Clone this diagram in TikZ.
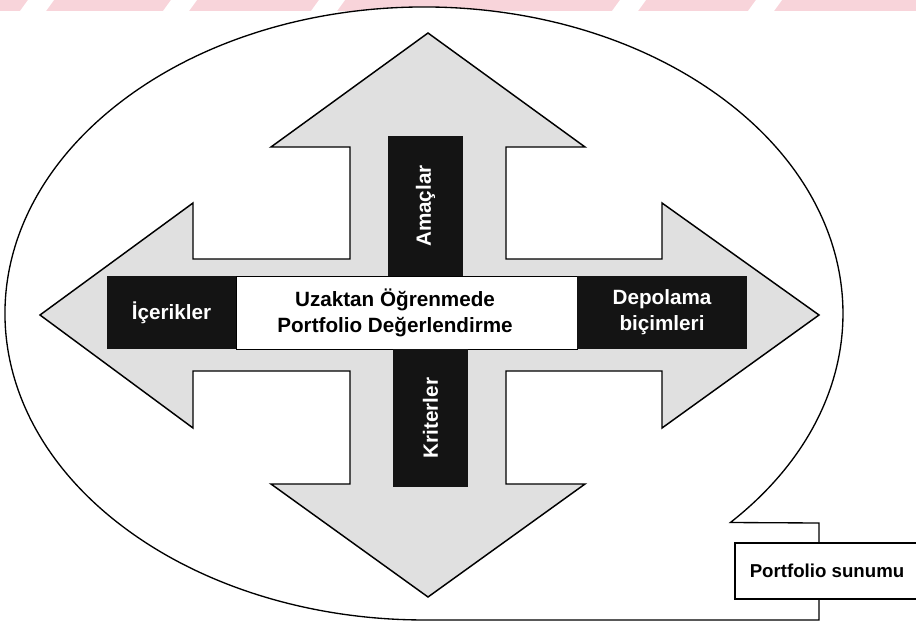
\documentclass[tikz,border=0pt]{standalone}
\usepackage{fontspec}
\setmainfont{Liberation Sans}
\definecolor{wmpink}{RGB}{248,212,218}
\definecolor{arrowgray}{RGB}{224,224,224}
\begin{document}
\begin{tikzpicture}[x=0.75pt,y=-0.75pt,
  outline/.style={draw=black, line width=1.1pt, line join=miter},
  darkbox/.style={fill=black!92, draw=none, inner sep=0pt, outer sep=0pt,
     text=white, font=\bfseries\fontsize{15.5}{19.5}\selectfont, align=center},
  lightbox/.style={fill=white, draw=black, line width=0.5pt, inner sep=0pt, outer sep=0pt},
  midtext/.style={text=black, font=\bfseries\fontsize{15.5}{19.5}\selectfont, align=center, inner sep=0pt},
  pstext/.style={text=black, font=\bfseries\fontsize{14}{17}\selectfont, inner sep=0pt}]
\useasboundingbox (0,0) rectangle (916,621);
% faint watermark band at the top
\fill[wmpink] (0,0) rectangle (916,11);
\foreach \gx in {20,163,311,612,748} {
  \fill[white] (\gx,11) -- (\gx+8,0) -- (\gx+34,0) -- (\gx+26,11) -- cycle;
}
% speech bubble
\draw[outline, line width=1pt, fill=white] (730.4,522.5)
  arc[start angle=43, end angle=-270, x radius=419, y radius=306.5]
  -- (819,620) -- (819,523) -- cycle;
% four-way arrow
\draw[outline, fill=arrowgray]
  (428,33) -- (585,147) -- (506,147) -- (506,259) -- (662,259) -- (662,203)
  -- (819,315) -- (662,428) -- (662,371) -- (506,371) -- (506,484)
  -- (585,484) -- (428,597) -- (271,484) -- (350,484) -- (350,371)
  -- (193,371) -- (193,428) -- (40,315) -- (193,203) -- (193,259)
  -- (350,259) -- (350,147) -- (271,147) -- cycle;
% boxes
\node[darkbox, minimum width=96.75pt, minimum height=54.75pt] (ice) at (171.5,312.5) {İçerikler};
\node[lightbox, minimum width=255.75pt, minimum height=54.75pt] (mid) at (406.5,312.5) {};
\node[midtext] (midt) at (395,313) {Uzaktan Öğrenmede\\Portfolio Değerlendirme};
\node[darkbox, minimum width=127.5pt, minimum height=54.75pt] (dep) at (662,312.5) {Depolama\\biçimleri};
\node[darkbox, rotate=90, minimum width=105pt, minimum height=56.25pt] (ama) at (425.5,206) {Amaçlar};
\node[darkbox, rotate=90, minimum width=103.5pt, minimum height=56.25pt] (kri) at (430.5,418) {Kriterler};
% Portfolio sunumu box
\draw[line width=1pt, fill=white] (735,543) rectangle (940,599);
\node[pstext] (ps) at (827,571) {Portfolio sunumu};
\end{tikzpicture}
\end{document}
